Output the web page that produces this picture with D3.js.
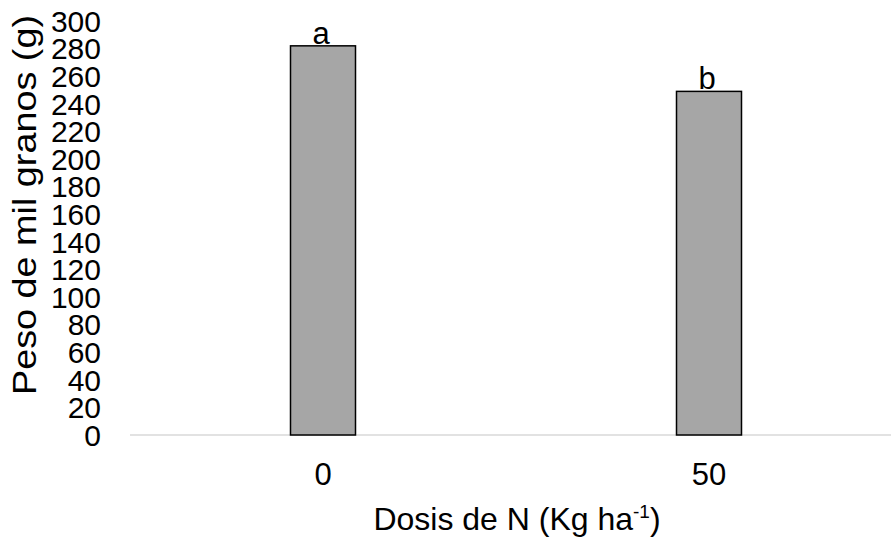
<!DOCTYPE html>
<html><head><meta charset="utf-8">
<script src="https://cdn.jsdelivr.net/npm/d3@7"></script>
<style>body{margin:0;background:#fff}svg{display:block}text{font-family:"Liberation Sans",Arial,sans-serif;fill:#000}</style>
</head><body>
<svg id="c" width="891" height="539"></svg>
<script>
const categories = ["0", "50"];
const values = [282, 249];
const letters = ["a", "b"];
const yTicks = [0,20,40,60,80,100,120,140,160,180,200,220,240,260,280,300];

const svg = d3.select("#c");
const x = d3.scaleBand().domain(categories).range([130, 902]).paddingInner(0).paddingOuter(0);
const y = d3.scaleLinear().domain([0, 300]).range([435, 21]);
const bw = 65;

// axis line
svg.append("line").attr("x1", 130).attr("x2", 891).attr("y1", y(0)).attr("y2", y(0))
  .attr("stroke", "#d9d9d9").attr("stroke-width", 1.5);

// y tick labels
svg.selectAll("text.yt").data(yTicks).enter().append("text")
  .attr("class", "yt").attr("x", 101).attr("y", d => y(d)).attr("dy", "0.36em")
  .attr("text-anchor", "end").attr("font-size", 30).text(d => d);

// bars
svg.selectAll("rect.bar").data(values).enter().append("rect")
  .attr("class", "bar")
  .attr("x", (d, i) => x(categories[i]) + x.bandwidth() / 2 - bw / 2)
  .attr("width", bw)
  .attr("y", d => y(d))
  .attr("height", d => y(0) - y(d))
  .attr("fill", "#a6a6a6").attr("stroke", "#000").attr("stroke-width", 1.5);

// letters
svg.selectAll("text.lt").data(values).enter().append("text")
  .attr("class", "lt")
  .attr("x", (d, i) => x(categories[i]) + x.bandwidth() / 2 - 2)
  .attr("y", d => y(d) - 2)
  .attr("text-anchor", "middle").attr("font-size", 31).text((d, i) => letters[i]);

// x tick labels
svg.selectAll("text.xt").data(categories).enter().append("text")
  .attr("class", "xt").attr("x", d => x(d) + x.bandwidth() / 2).attr("y", 485)
  .attr("text-anchor", "middle").attr("font-size", 31).text(d => d);

// x title
const xt = svg.append("text").attr("x", 517).attr("y", 530).attr("text-anchor", "middle").attr("font-size", 32);
xt.append("tspan").text("Dosis de N (Kg ha");
xt.append("tspan").attr("font-size", 19).attr("dy", -12).text("-1");
xt.append("tspan").attr("dy", 12).text(")");

// y title
svg.append("text").attr("transform", "translate(36,205) rotate(-90)")
  .attr("text-anchor", "middle").attr("font-size", 34)
  .attr("textLength", 380).attr("lengthAdjust", "spacingAndGlyphs")
  .text("Peso de mil granos (g)");
</script>
</body></html>
